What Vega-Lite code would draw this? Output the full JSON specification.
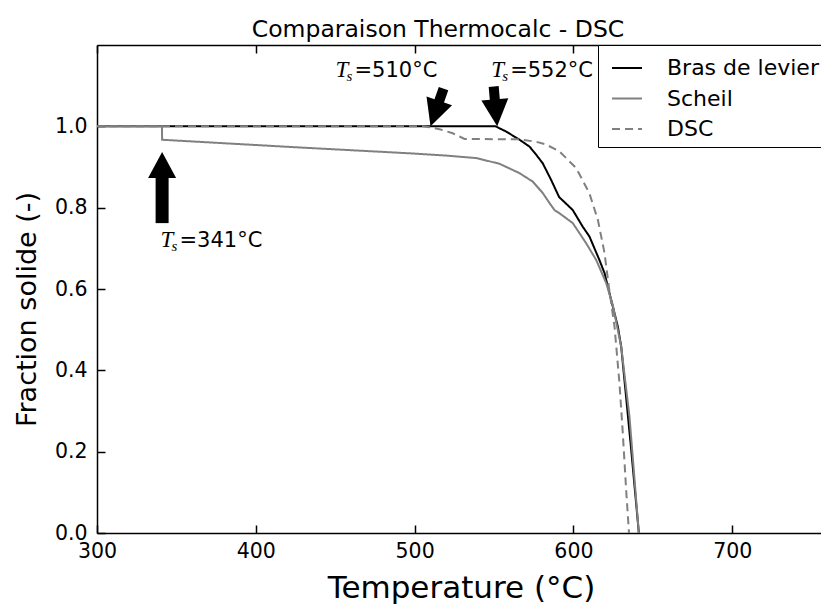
{
  "$schema": "https://vega.github.io/schema/vega-lite/v6.json",
  "width": 724,
  "height": 488,
  "autosize": {"type": "none"},
  "padding": {"left": 97, "top": 45, "right": 0, "bottom": 71},
  "background": "white",
  "title": {"text": "Comparaison Thermocalc - DSC", "fontSize": 23.5, "font": "DejaVu Sans", "fontWeight": "normal", "color": "black", "anchor": "middle", "dx": -21, "offset": -16, "baseline": "alphabetic"},
  "datasets": {
    "curves": [
      {"s": "Bras de levier", "T": 300, "f": 1.0},
      {"s": "Bras de levier", "T": 551, "f": 1.0},
      {"s": "Bras de levier", "T": 557.7, "f": 0.987},
      {"s": "Bras de levier", "T": 566.1, "f": 0.967},
      {"s": "Bras de levier", "T": 572.4, "f": 0.95},
      {"s": "Bras de levier", "T": 576.6, "f": 0.93},
      {"s": "Bras de levier", "T": 580.7, "f": 0.909},
      {"s": "Bras de levier", "T": 586, "f": 0.868},
      {"s": "Bras de levier", "T": 591, "f": 0.826},
      {"s": "Bras de levier", "T": 594, "f": 0.815},
      {"s": "Bras de levier", "T": 599.6, "f": 0.794},
      {"s": "Bras de levier", "T": 605.9, "f": 0.753},
      {"s": "Bras de levier", "T": 610.1, "f": 0.729},
      {"s": "Bras de levier", "T": 616.4, "f": 0.671},
      {"s": "Bras de levier", "T": 619.6, "f": 0.639},
      {"s": "Bras de levier", "T": 622.7, "f": 0.59},
      {"s": "Bras de levier", "T": 624.8, "f": 0.557},
      {"s": "Bras de levier", "T": 628, "f": 0.507},
      {"s": "Bras de levier", "T": 630.1, "f": 0.458},
      {"s": "Bras de levier", "T": 636.4, "f": 0.204},
      {"s": "Bras de levier", "T": 641.2, "f": 0},
      {"s": "Scheil", "T": 300, "f": 1.0},
      {"s": "Scheil", "T": 340.9, "f": 1.0},
      {"s": "Scheil", "T": 341, "f": 0.967},
      {"s": "Scheil", "T": 427.6, "f": 0.948},
      {"s": "Scheil", "T": 500, "f": 0.933},
      {"s": "Scheil", "T": 520, "f": 0.928},
      {"s": "Scheil", "T": 538.8, "f": 0.922},
      {"s": "Scheil", "T": 553.4, "f": 0.908},
      {"s": "Scheil", "T": 566, "f": 0.885},
      {"s": "Scheil", "T": 574.4, "f": 0.864},
      {"s": "Scheil", "T": 580.7, "f": 0.836},
      {"s": "Scheil", "T": 585, "f": 0.811},
      {"s": "Scheil", "T": 588.1, "f": 0.794},
      {"s": "Scheil", "T": 591.3, "f": 0.786},
      {"s": "Scheil", "T": 599.6, "f": 0.762},
      {"s": "Scheil", "T": 608.1, "f": 0.712},
      {"s": "Scheil", "T": 614.4, "f": 0.671},
      {"s": "Scheil", "T": 620.7, "f": 0.614},
      {"s": "Scheil", "T": 624.8, "f": 0.56},
      {"s": "Scheil", "T": 630.1, "f": 0.458},
      {"s": "Scheil", "T": 635.3, "f": 0.286},
      {"s": "Scheil", "T": 641.2, "f": 0},
      {"s": "DSC", "T": 300, "f": 1.0},
      {"s": "DSC", "T": 505, "f": 1.0},
      {"s": "DSC", "T": 509.4, "f": 0.998},
      {"s": "DSC", "T": 515.7, "f": 0.993},
      {"s": "DSC", "T": 524, "f": 0.983},
      {"s": "DSC", "T": 528.3, "f": 0.975},
      {"s": "DSC", "T": 531.4, "f": 0.969},
      {"s": "DSC", "T": 566, "f": 0.968},
      {"s": "DSC", "T": 576.6, "f": 0.962},
      {"s": "DSC", "T": 582.9, "f": 0.955},
      {"s": "DSC", "T": 591.3, "f": 0.938},
      {"s": "DSC", "T": 601.8, "f": 0.897},
      {"s": "DSC", "T": 610.1, "f": 0.835},
      {"s": "DSC", "T": 615.4, "f": 0.77},
      {"s": "DSC", "T": 619.6, "f": 0.688},
      {"s": "DSC", "T": 622.3, "f": 0.606},
      {"s": "DSC", "T": 625.9, "f": 0.507},
      {"s": "DSC", "T": 629, "f": 0.368},
      {"s": "DSC", "T": 631.1, "f": 0.245},
      {"s": "DSC", "T": 633.2, "f": 0.106},
      {"s": "DSC", "T": 635, "f": 0}
    ],
    "arrows": [
      {"id": "341", "tipT": 341, "tipF": 0.937, "baseT": 341, "baseF": 0.876, "tailT": 341, "tailF": 0.762},
      {"id": "510", "tipT": 510, "tipF": 1.0, "baseT": 515.1, "baseF": 1.058, "tailT": 518.2, "tailF": 1.093},
      {"id": "552", "tipT": 552, "tipF": 1.0, "baseT": 550.6, "baseF": 1.061, "tailT": 549.8, "tailF": 1.098}
    ],
    "labels": [
      {"T": 450.2, "f": 1.122, "txt": "=510°C"},
      {"T": 548.2, "f": 1.122, "txt": "=552°C"},
      {"T": 340.0, "f": 0.704, "txt": "=341°C"}
    ]
  },
  "config": {
    "view": {"stroke": null},
    "font": "DejaVu Sans",
    "axis": {"grid": false, "domainColor": "black", "domainWidth": 1.5, "tickColor": "black", "tickWidth": 1.5, "tickSize": -8, "labelFont": "DejaVu Sans", "labelFontSize": 20.5, "labelColor": "black", "titleFont": "DejaVu Sans", "titleFontWeight": "normal", "titleColor": "black"}
  },
  "resolve": {"axis": {"x": "independent", "y": "independent"}},
  "layer": [
    {
      "data": {"name": "curves"},
      "transform": [{"filter": "datum.s === 'Bras de levier'"}],
      "mark": {"type": "line", "strokeWidth": 2},
      "encoding": {
        "x": {"field": "T", "type": "quantitative", "scale": {"domain": [300, 755.9], "nice": false, "zero": false},
          "axis": {"orient": "bottom", "values": [300, 400, 500, 600, 700], "title": "Temperature (°C)", "titleFontSize": 31, "labelPadding": 16, "labelFlush": false, "titleY": 64, "titleBaseline": "alphabetic", "titleX": 364}},
        "y": {"field": "f", "type": "quantitative", "scale": {"domain": [0, 1.2], "nice": false},
          "axis": {"orient": "left", "values": [0, 0.2, 0.4, 0.6, 0.8, 1.0], "format": ".1f", "title": "Fraction solide (-)", "titleFontSize": 27, "labelPadding": 18, "titleX": -62, "titleY": 264, "titleBaseline": "alphabetic"}},
        "color": {"field": "s", "type": "nominal", "scale": {"domain": ["Bras de levier", "Scheil", "DSC"], "range": ["black", "#808080", "#808080"]},
          "legend": {"title": null, "orient": "none", "legendX": 501, "legendY": 0, "symbolType": "stroke", "symbolSize": 900, "symbolStrokeWidth": 2, "labelFontSize": 22, "labelFont": "DejaVu Sans", "labelColor": "black", "labelOffset": 24, "padding": 7, "symbolOffset": 6, "strokeColor": "black", "fillColor": "white", "rowPadding": 3.5, "labelLimit": 400, "zindex": 2}},
        "strokeDash": {"field": "s", "type": "nominal", "scale": {"domain": ["Bras de levier", "Scheil", "DSC"], "range": [[1, 0], [1, 0], [8, 5]]},
          "legend": {"title": null, "orient": "none", "legendX": 501, "legendY": 0, "symbolType": "stroke", "symbolSize": 900, "symbolStrokeWidth": 2, "labelFontSize": 22, "labelFont": "DejaVu Sans", "labelColor": "black", "labelOffset": 24, "padding": 7, "symbolOffset": 6, "strokeColor": "black", "fillColor": "white", "rowPadding": 3.5, "labelLimit": 400, "zindex": 2}}
      }
    },
    {
      "data": {"name": "curves"},
      "transform": [{"filter": "datum.s === 'Scheil'"}],
      "mark": {"type": "line", "strokeWidth": 2},
      "encoding": {
        "x": {"field": "T", "type": "quantitative", "axis": {"orient": "top", "labels": false, "title": null, "values": [300, 400, 500, 600, 700]}},
        "y": {"field": "f", "type": "quantitative", "axis": null},
        "color": {"field": "s", "type": "nominal"},
        "strokeDash": {"field": "s", "type": "nominal"}
      }
    },
    {
      "data": {"name": "curves"},
      "transform": [{"filter": "datum.s === 'DSC'"}],
      "mark": {"type": "line", "strokeWidth": 2},
      "encoding": {
        "x": {"field": "T", "type": "quantitative", "axis": null},
        "y": {"field": "f", "type": "quantitative", "axis": null},
        "color": {"field": "s", "type": "nominal"},
        "strokeDash": {"field": "s", "type": "nominal"}
      }
    },
    {
      "data": {"name": "arrows"},
      "transform": [{"filter": "datum.id === '341'"}],
      "mark": {"type": "rule", "strokeWidth": 13, "color": "black", "strokeCap": "butt"},
      "encoding": {
        "x": {"field": "tailT", "type": "quantitative", "axis": null},
        "y": {"field": "tailF", "type": "quantitative", "axis": null},
        "x2": {"field": "baseT"},
        "y2": {"field": "baseF"}
      }
    },
    {
      "data": {"name": "arrows"},
      "transform": [{"filter": "datum.id !== '341'"}],
      "mark": {"type": "rule", "strokeWidth": 10, "color": "black", "strokeCap": "butt"},
      "encoding": {
        "x": {"field": "tailT", "type": "quantitative", "axis": null},
        "y": {"field": "tailF", "type": "quantitative", "axis": null},
        "x2": {"field": "baseT"},
        "y2": {"field": "baseF"}
      }
    },
    {
      "data": {"name": "arrows"},
      "transform": [{"filter": "datum.id === '341'"}],
      "mark": {"type": "point", "shape": "M-1,1.86L1,1.86L0,0Z", "size": 784, "filled": true, "color": "black", "opacity": 1, "strokeWidth": 0},
      "encoding": {
        "x": {"field": "tipT", "type": "quantitative", "axis": null},
        "y": {"field": "tipF", "type": "quantitative", "axis": null}
      }
    },
    {
      "data": {"name": "arrows"},
      "transform": [{"filter": "datum.id === '510'"}],
      "mark": {"type": "point", "shape": "M-1,-2L1,-2L0,0Z", "size": 729, "angle": 19, "filled": true, "color": "black", "opacity": 1, "strokeWidth": 0},
      "encoding": {
        "x": {"field": "tipT", "type": "quantitative", "axis": null},
        "y": {"field": "tipF", "type": "quantitative", "axis": null}
      }
    },
    {
      "data": {"name": "arrows"},
      "transform": [{"filter": "datum.id === '552'"}],
      "mark": {"type": "point", "shape": "M-1,-2L1,-2L0,0Z", "size": 729, "angle": 355, "filled": true, "color": "black", "opacity": 1, "strokeWidth": 0},
      "encoding": {
        "x": {"field": "tipT", "type": "quantitative", "axis": null},
        "y": {"field": "tipF", "type": "quantitative", "axis": null}
      }
    },
    {
      "data": {"name": "labels"},
      "mark": {"type": "text", "text": "T", "font": "Liberation Serif", "fontStyle": "italic", "fontSize": 23, "align": "left", "baseline": "alphabetic", "color": "black"},
      "encoding": {
        "x": {"field": "T", "type": "quantitative", "axis": null},
        "y": {"field": "f", "type": "quantitative", "axis": null}
      }
    },
    {
      "data": {"name": "labels"},
      "mark": {"type": "text", "text": "s", "font": "Liberation Serif", "fontStyle": "italic", "fontSize": 15, "align": "left", "baseline": "alphabetic", "dx": 11, "dy": 4, "color": "black"},
      "encoding": {
        "x": {"field": "T", "type": "quantitative", "axis": null},
        "y": {"field": "f", "type": "quantitative", "axis": null}
      }
    },
    {
      "data": {"name": "labels"},
      "mark": {"type": "text", "font": "DejaVu Sans", "fontSize": 21, "align": "left", "baseline": "alphabetic", "dx": 19, "color": "black"},
      "encoding": {
        "x": {"field": "T", "type": "quantitative", "axis": null},
        "y": {"field": "f", "type": "quantitative", "axis": null},
        "text": {"field": "txt", "type": "nominal"}
      }
    }
  ]
}
